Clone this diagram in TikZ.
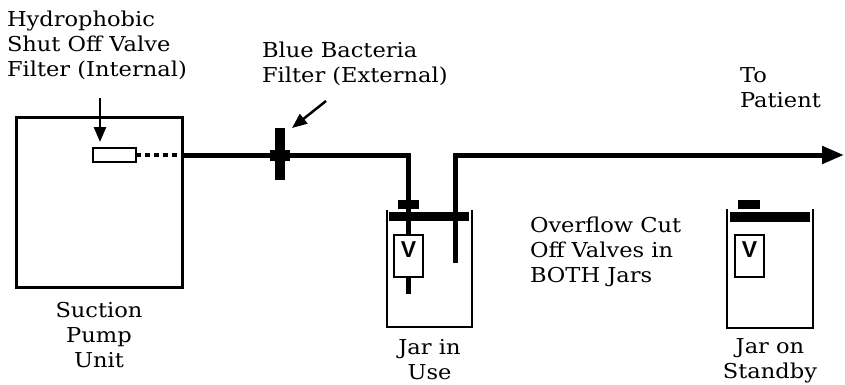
\documentclass[tikz,border=0pt]{standalone}
\usepackage{fontspec}
\setmainfont{DejaVu Serif}[FakeStretch=1.1]
\newfontfamily\valvefont{Liberation Sans}
\usetikzlibrary{arrows.meta,positioning}

\begin{document}
\begin{tikzpicture}[
        x=1pt, y=-1pt,
        every node/.style={inner sep=0pt, outer sep=0pt},
        txt/.style={font=\fontsize{20.5}{25}\selectfont, align=left},
        tube/.style={line width=5pt},
        wall/.style={line width=2.5pt},
        block/.style={fill=black},
        pointer/.style={line width=2.5pt, -{Triangle[length=15pt,width=12pt]}},
        valve/.style={draw, line width=2.5pt, fill=white, anchor=north, minimum width=29pt,
            text height=22pt, text depth=20pt, font=\valvefont\bfseries\fontsize{23}{23}\selectfont}
    ]
    \useasboundingbox (0,0) rectangle (845,385);

    % Nodes
    \node (pump) [draw, line width=3pt, minimum width=166pt, minimum height=169pt] at (99,202.5) {};
    \node (pumplbl) [txt, align=center, below=15pt of pump] {Suction\\Pump\\Unit};
    \node (ifilter) [draw, line width=2.5pt, minimum width=43pt, minimum height=14pt] at (114.5,155) {};
    \node (hpflbl) [txt, anchor=north west] at (7,11) {Hydrophobic\\Shut Off Valve\\Filter (Internal)};
    \coordinate (hpftail) at (100,98);
    \coordinate (hpfhead) at (100,142);

    \node (bfilter) [block, minimum width=10pt, minimum height=52pt] at (280,154) {};
    \node (bfcollar) [block, minimum width=20pt, minimum height=11pt] at (280,155) {};
    \node (bflbl) [txt, anchor=north west] at (262,42) {Blue Bacteria\\Filter (External)};
    \coordinate (bftail) at (326,101);
    \coordinate (bfhead) at (292,128);

    % jar in use
    \node (uselid) [block, minimum width=80pt, minimum height=9pt] at (429,216.5) {};
    \node (usecap) [block, minimum width=21pt, minimum height=9pt] at (408.5,204.5) {};
    \node (usevalve) [valve] at (408.5,235) {V};
    \node (uselbl) [txt, align=center, anchor=north] at (429.5,339) {Jar in\\Use};
    \coordinate (usedrain) at (408.5,294);
    \coordinate (outlet) at (455.5,263);
    \coordinate (patient) at (844,155);

    % jar on standby
    \node (sbylid) [block, minimum width=80pt, minimum height=10pt] at (770,217) {};
    \node (sbycap) [block, minimum width=22pt, minimum height=9pt] at (749,204.5) {};
    \node (sbyvalve) [valve] at (749.5,235) {V};
    \node (sbylbl) [txt, align=center, anchor=north] at (770,339) {Jar on\\Standby};

    \node (ovflbl) [txt, anchor=north west] at (530,217) {Overflow Cut\\Off Valves in\\BOTH Jars};
    \node (ptlbl) [txt, anchor=north west] at (740,68) {To\\Patient};

    % Edges
    \draw[wall] (387,210) -- (387,327) -- (472,327) -- (472,210);
    \draw[wall] (727,209) -- (727,328) -- (813,328) -- (813,209);

    \draw[line width=4pt, dash pattern=on 5pt off 4pt] (ifilter.east) -- (pump.east |- ifilter.east);
    \draw[tube] (pump.east |- ifilter.east) -- (usevalve |- ifilter.east) -- (usevalve.north);
    \draw[tube] (usevalve.south) -- (usedrain);
    \draw[tube, -{Triangle[length=22pt,width=17pt]}] (outlet) -- (outlet |- patient) -- (patient);

    \draw[pointer] (hpftail) -- (hpfhead);
    \draw[pointer] (bftail) -- (bfhead);

\end{tikzpicture}
\end{document}
